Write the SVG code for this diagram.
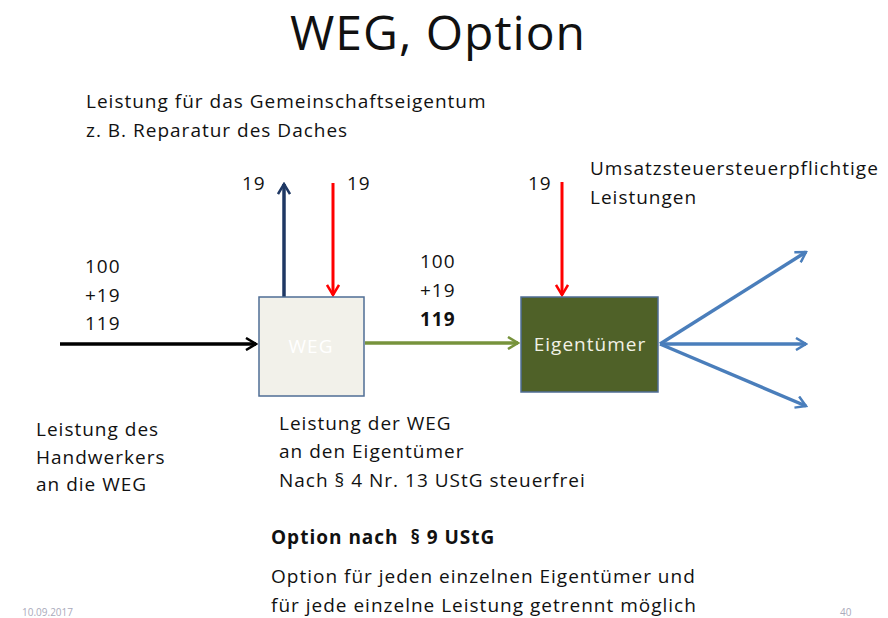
<svg xmlns="http://www.w3.org/2000/svg" width="888" height="618" viewBox="0 0 888 618">
<style>
text{font-family:"Open Sans","Liberation Sans",sans-serif;fill:#111;font-size:19px;letter-spacing:1px}
.title{font-size:48px;text-anchor:middle;letter-spacing:1px}
.b{font-weight:bold}
.foot{fill:#aab;font-size:10px;letter-spacing:0}
</style>
<defs>
<marker id="mkB" viewBox="0 0 14 14" refX="12" refY="7" markerWidth="14" markerHeight="14" markerUnits="userSpaceOnUse" orient="auto"><path d="M2,1 L12,7 L2,13" fill="none" stroke="#000" stroke-width="2.5"/></marker>
<marker id="mkR" viewBox="0 0 14 14" refX="12" refY="7" markerWidth="14" markerHeight="14" markerUnits="userSpaceOnUse" orient="auto"><path d="M2,1 L12,7 L2,13" fill="none" stroke="#f00" stroke-width="2.5"/></marker>
<marker id="mkN" viewBox="0 0 14 14" refX="12" refY="7" markerWidth="14" markerHeight="14" markerUnits="userSpaceOnUse" orient="auto"><path d="M2,1 L12,7 L2,13" fill="none" stroke="#1f3864" stroke-width="2.5"/></marker>
<marker id="mkG" viewBox="0 0 14 14" refX="12" refY="7" markerWidth="14" markerHeight="14" markerUnits="userSpaceOnUse" orient="auto"><path d="M2,1 L12,7 L2,13" fill="none" stroke="#77933c" stroke-width="2.5"/></marker>
<marker id="mkL" viewBox="0 0 14 14" refX="12" refY="7" markerWidth="14" markerHeight="14" markerUnits="userSpaceOnUse" orient="auto"><path d="M2,1 L12,7 L2,13" fill="none" stroke="#4a7ebb" stroke-width="2.5"/></marker>
</defs>
<text class="title" x="438" y="50">WEG, Option</text>
<text x="86" y="108">Leistung für das Gemeinschaftseigentum</text>
<text x="86" y="137">z. B. Reparatur des Daches</text>
<text x="242" y="190">19</text>
<text x="347" y="190">19</text>
<text x="528" y="190">19</text>
<text x="590" y="175">Umsatzsteuersteuerpflichtige</text>
<text x="590" y="204">Leistungen</text>
<text x="85" y="273">100</text>
<text x="85" y="302">+19</text>
<text x="85" y="330">119</text>
<text x="420" y="268">100</text>
<text x="420" y="297">+19</text>
<text x="420" y="326" class="b">119</text>
<g id="connectors">
<line x1="60" y1="344" x2="256" y2="344" stroke="#000" stroke-width="3.5" marker-end="url(#mkB)"/>
<line x1="284" y1="297" x2="284" y2="184" stroke="#1f3864" stroke-width="3.5" marker-end="url(#mkN)"/>
<line x1="333" y1="183" x2="333" y2="295" stroke="#f00" stroke-width="3" marker-end="url(#mkR)"/>
<line x1="562" y1="182" x2="562" y2="295" stroke="#f00" stroke-width="3" marker-end="url(#mkR)"/>
<line x1="365" y1="343" x2="518" y2="343" stroke="#77933c" stroke-width="3.5" marker-end="url(#mkG)"/>
<line x1="660" y1="344" x2="806" y2="252" stroke="#4a7ebb" stroke-width="3.5" marker-end="url(#mkL)"/>
<line x1="660" y1="344" x2="806" y2="344" stroke="#4a7ebb" stroke-width="3.5" marker-end="url(#mkL)"/>
<line x1="660" y1="344" x2="806" y2="406" stroke="#4a7ebb" stroke-width="3.5" marker-end="url(#mkL)"/>
</g>
<g id="weg">
<rect x="259" y="297" width="105" height="99" fill="#f2f1ea" stroke="#4f6d95" stroke-width="1.5"/>
<text x="311" y="353" text-anchor="middle" style="fill:#fff">WEG</text>
</g>
<g id="eigentuemer">
<rect x="521" y="297" width="137" height="95" fill="#4f6128" stroke="#4f6d95" stroke-width="1.5"/>
<text x="590" y="351" text-anchor="middle" style="fill:#f2f2e6">Eigentümer</text>
</g>
<text x="36" y="436">Leistung des</text>
<text x="36" y="464">Handwerkers</text>
<text x="36" y="491">an die WEG</text>
<text x="279" y="430">Leistung der WEG</text>
<text x="279" y="458">an den Eigentümer</text>
<text x="279" y="487">Nach § 4 Nr. 13 UStG steuerfrei</text>
<text x="271" y="544" class="b">Option nach&#160; § 9 UStG</text>
<text x="271" y="583">Option für jeden einzelnen Eigentümer und</text>
<text x="271" y="612">für jede einzelne Leistung getrennt möglich</text>
<text class="foot" x="22" y="616">10.09.2017</text>
<text class="foot" x="840" y="616">40</text>
</svg>
